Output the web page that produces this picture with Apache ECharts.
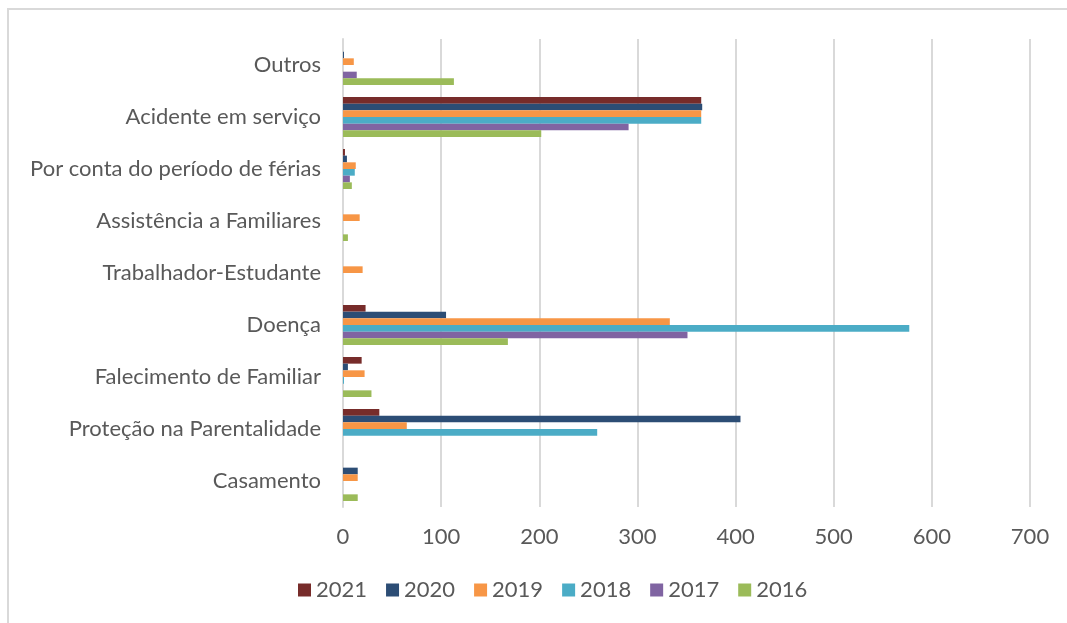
<!DOCTYPE html>
<html>
<head>
<meta charset="utf-8">
<script src="https://cdn.jsdelivr.net/npm/echarts@6/dist/echarts.min.js"></script>
<style>
  html, body { margin: 0; padding: 0; background: #fff; }
  #chart { width: 1067px; height: 623px; }
</style>
</head>
<body>
<div id="chart"></div>
<script>
// categories, bottom to top as the axis draws them
var categories = ['Casamento', 'Proteção na Parentalidade', 'Falecimento de Familiar', 'Doença',
  'Trabalhador-Estudante', 'Assistência a Familiares', 'Por conta do período de férias',
  'Acidente em serviço', 'Outros'];

var years = ['2021', '2020', '2019', '2018', '2017', '2016'];

var v2021 = [0, 37, 19, 23, 0, 0, 2, 365, 0];
var v2020 = [15, 405, 5, 105, 0, 0, 4, 366, 1];
var v2019 = [15, 65, 22, 333, 20, 17, 13, 365, 11];
var v2018 = [0, 259, 1, 577, 0, 0, 12, 365, 0];
var v2017 = [0, 0, 0, 351, 0, 0, 7, 291, 14];
var v2016 = [15, 0, 29, 168, 0, 5, 9, 202, 113];

var xTicks = [0, 100, 200, 300, 400, 500, 600, 700];

var colors = {
  '2021': '#772C2A',
  '2020': '#2C4D75',
  '2019': '#F79646',
  '2018': '#4BACC6',
  '2017': '#8064A2',
  '2016': '#9BBB59'
};

var values = { '2021': v2021, '2020': v2020, '2019': v2019, '2018': v2018, '2017': v2017, '2016': v2016 };

var font = 'Lato, "Open Sans", sans-serif';

// first series ends up at the top of each band here
var series = years.map(function (y) {
  return {
    name: y,
    type: 'bar',
    data: values[y],
    barGap: '0%',
    barCategoryGap: '23%',
    itemStyle: { color: colors[y] },
    emphasis: { disabled: true }
  };
});

var chart = echarts.init(document.getElementById('chart'));
chart.setOption({
  animation: false,
  backgroundColor: '#ffffff',
  graphic: [{
    type: 'rect',
    shape: { x: 8, y: 9, width: 1200, height: 800 },
    style: { fill: 'none', stroke: '#d9d9d9', lineWidth: 2 },
    silent: true
  }],
  legend: {
    data: years,
    bottom: 17,
    left: 293,
    itemWidth: 13,
    itemHeight: 13,
    itemGap: 19,
    icon: 'rect',
    textStyle: { fontFamily: font, fontSize: 22, color: '#595959' }
  },
  grid: { left: 343, right: 37, top: 39, bottom: 116 },
  xAxis: {
    type: 'value',
    min: xTicks[0],
    max: xTicks[xTicks.length - 1],
    interval: 100,
    axisLine: { show: false },
    axisTick: { show: false },
    axisLabel: { fontFamily: font, fontSize: 22, color: '#595959', margin: 19 },
    splitLine: { lineStyle: { color: '#d9d9d9', width: 2 } }
  },
  yAxis: {
    type: 'category',
    data: categories,
    axisLine: { lineStyle: { color: '#d9d9d9', width: 2 } },
    axisTick: { show: false },
    axisLabel: { fontFamily: font, fontSize: 22, color: '#595959', margin: 22 }
  },
  series: series
});
</script>
</body>
</html>
